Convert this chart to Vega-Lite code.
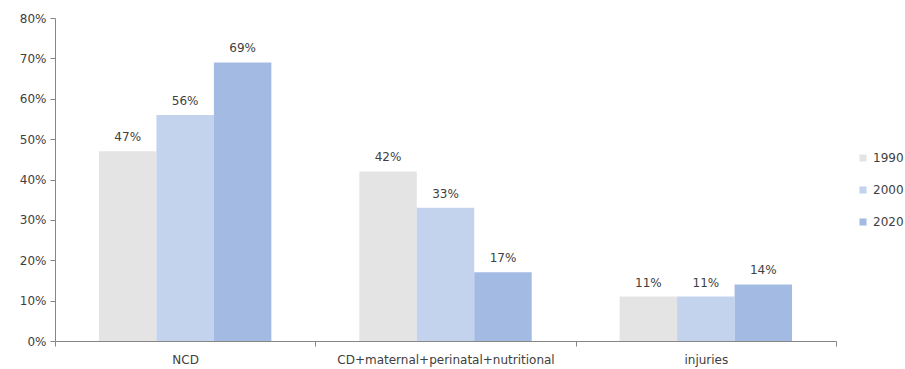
{
  "$schema": "https://vega.github.io/schema/vega-lite/v6.json",
  "autosize": "none",
  "width": 781,
  "height": 323,
  "padding": {"left": 55, "top": 18, "right": 69, "bottom": 28},
  "background": "white",
  "config": {
    "view": {"stroke": null},
    "font": "DejaVu Sans",
    "axis": {"labelFont": "DejaVu Sans", "labelFontSize": 12, "labelColor": "#404040", "domainColor": "#868686", "tickColor": "#868686", "grid": false, "title": null, "labelLimit": 0}
  },
  "data": {
    "values": [
      {"cat": "NCD", "year": "1990", "v": 0.47},
      {"cat": "NCD", "year": "2000", "v": 0.56},
      {"cat": "NCD", "year": "2020", "v": 0.69},
      {"cat": "CD+maternal+perinatal+nutritional", "year": "1990", "v": 0.42},
      {"cat": "CD+maternal+perinatal+nutritional", "year": "2000", "v": 0.33},
      {"cat": "CD+maternal+perinatal+nutritional", "year": "2020", "v": 0.17},
      {"cat": "injuries", "year": "1990", "v": 0.11},
      {"cat": "injuries", "year": "2000", "v": 0.11},
      {"cat": "injuries", "year": "2020", "v": 0.14}
    ]
  },
  "encoding": {
    "x": {
      "field": "cat", "type": "nominal", "sort": null,
      "scale": {"paddingInner": 0, "paddingOuter": 0},
      "axis": {"labelAngle": 0, "tickBand": "extent", "tickSize": 5, "labelPadding": 8}
    },
    "xOffset": {"field": "year", "type": "nominal", "scale": {"paddingInner": 0, "paddingOuter": 0.765}},
    "y": {
      "field": "v", "type": "quantitative",
      "scale": {"domain": [0, 0.8], "nice": false},
      "axis": {"format": ".0%", "values": [0, 0.1, 0.2, 0.3, 0.4, 0.5, 0.6, 0.7, 0.8], "tickSize": 5, "labelPadding": 4}
    }
  },
  "layer": [
    {
      "mark": {"type": "bar"},
      "encoding": {
        "color": {
          "field": "year", "type": "nominal",
          "scale": {"domain": ["1990", "2000", "2020"], "range": ["#e4e4e4", "#c3d3ee", "#a3bbe3"]},
          "legend": {"title": null, "orient": "none", "legendX": 802, "legendY": 134, "symbolType": "square", "symbolSize": 50, "labelFontSize": 12, "labelColor": "#404040", "rowPadding": 20, "labelFont": "DejaVu Sans", "symbolStrokeWidth": 0, "labelOffset": 4}
        }
      }
    },
    {
      "mark": {"type": "text", "baseline": "bottom", "dy": -7, "fontSize": 12, "color": "#404040"},
      "encoding": {"text": {"field": "v", "type": "quantitative", "format": ".0%"}}
    }
  ]
}
